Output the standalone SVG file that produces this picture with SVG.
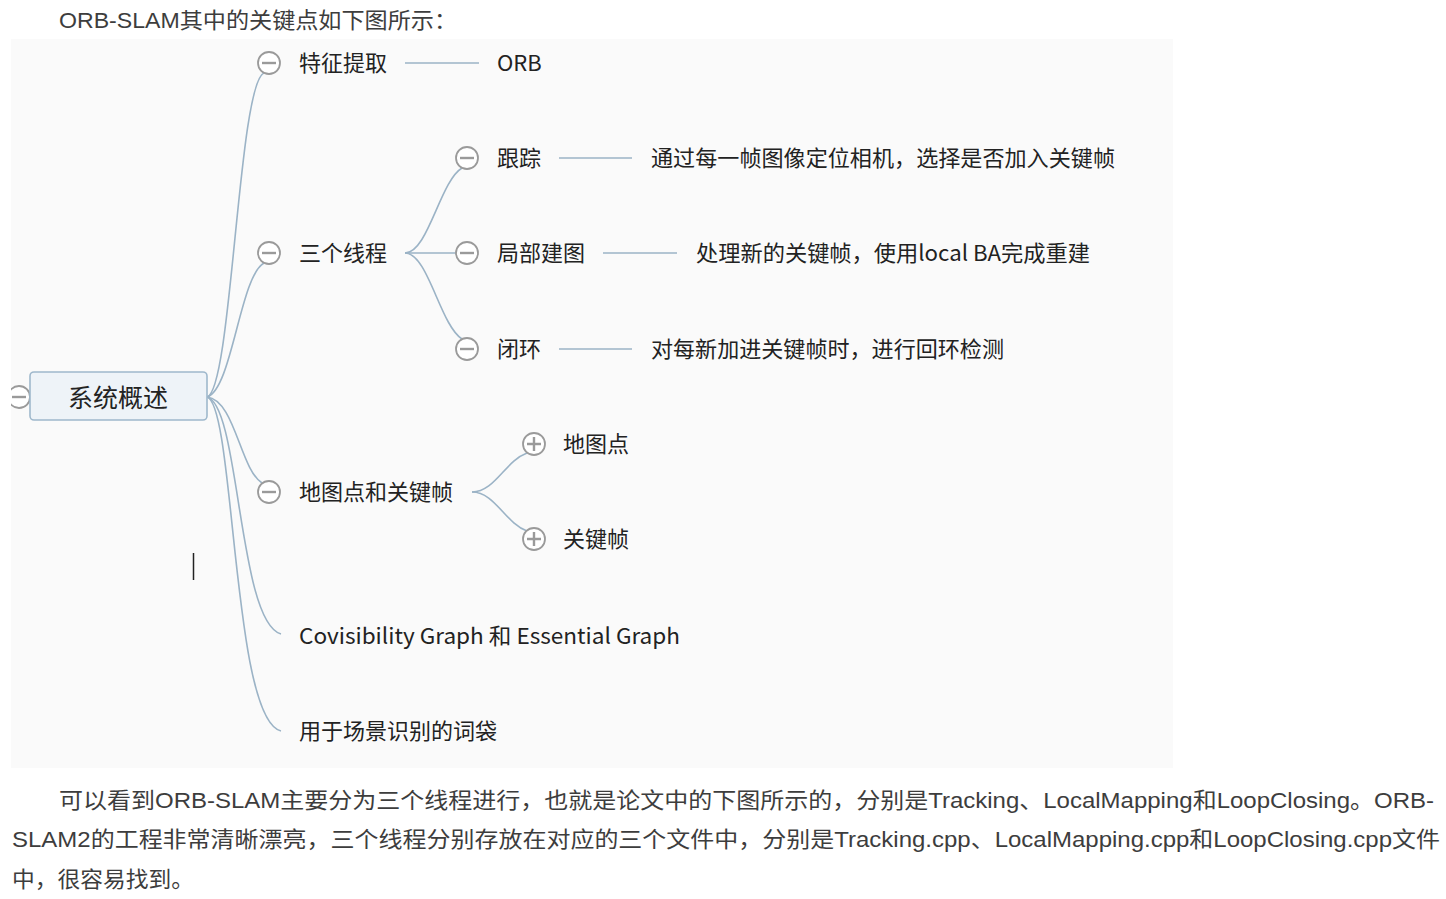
<svg xmlns="http://www.w3.org/2000/svg" width="1446" height="899" viewBox="0 0 1446 899">
<style>
.bg{fill:#fafafa}
.c{fill:none;stroke:#9bb3c6;stroke-width:1.6}
.t{font-family:"Noto Sans CJK SC","Noto Sans",sans-serif;font-size:22px;fill:#222}
.p{font-family:"Liberation Sans","Noto Sans CJK SC",sans-serif;font-size:22px;fill:#3d3d3d}
.tog circle{fill:#fff;stroke:#9a9a9a;stroke-width:1.8}
.tog path{stroke:#9a9a9a;stroke-width:2.4}
</style>
<defs>
<g id="minus" class="tog"><circle r="11"/><path d="M-7,0H7"/></g>
<g id="plus" class="tog"><circle r="11"/><path d="M-7,0H7M0,-7V7"/></g>
<clipPath id="clipbg"><rect x="11" y="39" width="1162" height="729"/></clipPath>
</defs>
<rect width="1446" height="899" fill="#fff"/>
<text class="p" x="59" y="28" textLength="398" lengthAdjust="spacingAndGlyphs">ORB-SLAM其中的关键点如下图所示：</text>
<rect class="bg" x="11" y="39" width="1162" height="729"/>

<g id="connectors">
<path class="c" d="M207,397 C232,390 238,84 264,73"/>
<path class="c" d="M207,397 C232,390 240,276 264,263"/>
<path class="c" d="M207,397 C235,400 240,469 262,483"/>
<path class="c" d="M207,397 C240,405 238,622 281,634"/>
<path class="c" d="M207,397 C235,405 232,720 281,731"/>
<path class="c" d="M405,63H479"/>
<path class="c" d="M405,253 C428,253 440,181 462,168"/>
<path class="c" d="M405,253H456"/>
<path class="c" d="M405,253 C428,253 440,325 462,339"/>
<path class="c" d="M559,158H632"/>
<path class="c" d="M603,253H677"/>
<path class="c" d="M559,349H632"/>
<path class="c" d="M472,492 C495,492 505,461 527,453"/>
<path class="c" d="M472,492 C495,492 505,523 527,531"/>
</g>

<g id="root">
<g clip-path="url(#clipbg)"><use href="#minus" x="19" y="397"/></g>
<rect x="30" y="372" width="177" height="48" rx="4" fill="#eef3f8" stroke="#9fb8cc" stroke-width="1.6"/>
<text class="t" x="118" y="407" text-anchor="middle" style="font-size:25px">系统概述</text>
</g>
<g id="n-feature"><use href="#minus" x="269" y="63"/><text class="t" x="299" y="71">特征提取</text></g>
<g id="n-orb"><text class="t" x="497" y="71">ORB</text></g>
<g id="n-threads"><use href="#minus" x="269" y="253"/><text class="t" x="299" y="261">三个线程</text></g>
<g id="n-track"><use href="#minus" x="467" y="158"/><text class="t" x="497" y="166">跟踪</text></g>
<g id="n-track-d"><text class="t" x="651" y="166" textLength="464" lengthAdjust="spacingAndGlyphs">通过每一帧图像定位相机，选择是否加入关键帧</text></g>
<g id="n-local"><use href="#minus" x="467" y="253"/><text class="t" x="497" y="261">局部建图</text></g>
<g id="n-local-d"><text class="t" x="696" y="261" textLength="394" lengthAdjust="spacingAndGlyphs">处理新的关键帧，使用local BA完成重建</text></g>
<g id="n-loop"><use href="#minus" x="467" y="349"/><text class="t" x="497" y="357">闭环</text></g>
<g id="n-loop-d"><text class="t" x="651" y="357" textLength="353" lengthAdjust="spacingAndGlyphs">对每新加进关键帧时，进行回环检测</text></g>
<g id="n-mapkf"><use href="#minus" x="269" y="492"/><text class="t" x="299" y="500">地图点和关键帧</text></g>
<g id="n-mp"><use href="#plus" x="534" y="444"/><text class="t" x="563" y="452">地图点</text></g>
<g id="n-kf"><use href="#plus" x="534" y="539"/><text class="t" x="563" y="547">关键帧</text></g>
<g id="n-covis"><text class="t" x="299" y="644" textLength="381" lengthAdjust="spacingAndGlyphs">Covisibility Graph 和 Essential Graph</text></g>
<g id="n-bow"><text class="t" x="299" y="739">用于场景识别的词袋</text></g>

<path d="M193.5,553V580" stroke="#222" stroke-width="1.5"/>

<text class="p" x="59" y="808" textLength="1375" lengthAdjust="spacingAndGlyphs">可以看到ORB-SLAM主要分为三个线程进行，也就是论文中的下图所示的，分别是Tracking、LocalMapping和LoopClosing。ORB-</text>
<text class="p" x="12" y="847" textLength="1428" lengthAdjust="spacingAndGlyphs">SLAM2的工程非常清晰漂亮，三个线程分别存放在对应的三个文件中，分别是Tracking.cpp、LocalMapping.cpp和LoopClosing.cpp文件</text>
<text class="p" x="12" y="887" textLength="182" lengthAdjust="spacingAndGlyphs">中，很容易找到。</text>
</svg>
